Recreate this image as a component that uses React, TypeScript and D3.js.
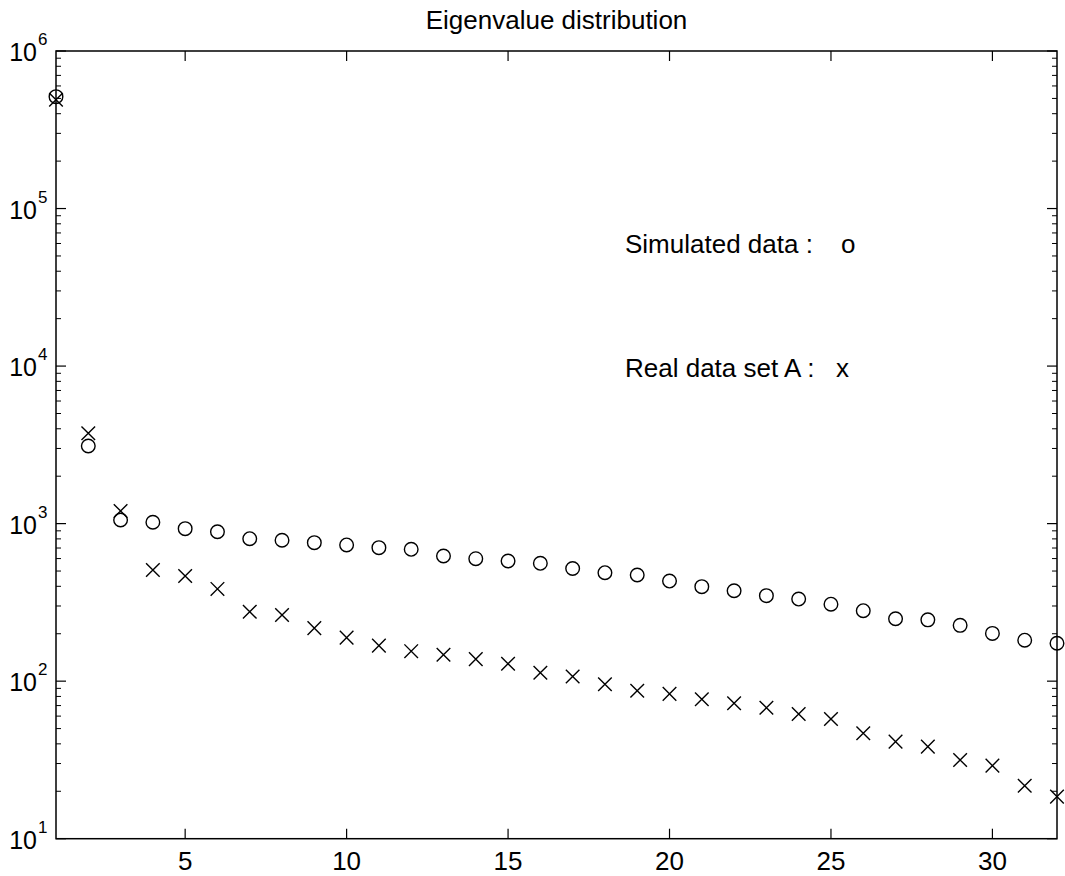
import React from "react";
import * as d3 from "d3";

const indices: number[] = Array.from({ length: 32 }, (_, i) => i + 1);
const simulated: number[] = [
  513000, 3109, 1054, 1020, 929, 888, 802, 784, 757, 732, 704, 687, 623, 599, 579, 560,
  519, 488, 472, 432, 398, 375, 349, 332, 308, 280, 249, 245, 226, 201, 182, 174,
];
const realA: number[] = [
  490000, 3745, 1203, 508, 465, 385, 276, 263, 217, 189, 168, 155, 147, 138, 129, 113,
  107, 95.5, 87, 83, 76.7, 72.4, 67.8, 61.9, 57.5, 46.7, 41.3, 38.4, 31.6, 29.1, 21.7, 18.5,
];
const xTicks: number[] = [5, 10, 15, 20, 25, 30];
const yTicks: number[] = [10, 100, 1000, 10000, 100000, 1000000];
const titleText = "Eigenvalue distribution";
const legendSim = "Simulated data :";
const legendReal = "Real data set A :";

const W = 1065;
const H = 876;
const left = 56;
const right = 1057;
const top = 51;
const bottom = 838.7;
const FONT = "'Liberation Sans', Arial, Helvetica, sans-serif";

export default function App() {
  const x = d3.scaleLinear().domain([1, 32]).range([left, right]);
  const y = d3.scaleLog().domain([10, 1e6]).range([bottom, top]);

  const minor: number[] = [];
  for (let e = 1; e < 6; e++) {
    for (let m = 2; m <= 9; m++) minor.push(m * Math.pow(10, e));
  }

  return (
    <svg
      width={W}
      height={H}
      style={{ position: "absolute", left: 0, top: 0, background: "#fff" }}
      fontFamily={FONT}
    >
      <rect x={0} y={0} width={W} height={H} fill="#fff" />
      {/* title */}
      <text x={(left + right) / 2} y={29} textAnchor="middle" fontSize={26} fill="#000">
        {titleText}
      </text>

      {/* axes box */}
      <rect x={left} y={top} width={right - left} height={bottom - top} fill="none" stroke="#000" strokeWidth={1.5} />

      {/* x ticks */}
      {xTicks.map((t) => (
        <g key={"xt" + t}>
          <line x1={x(t)} x2={x(t)} y1={bottom} y2={bottom - 10} stroke="#000" strokeWidth={1.2} />
          <line x1={x(t)} x2={x(t)} y1={top} y2={top + 10} stroke="#000" strokeWidth={1.2} />
          <text x={x(t)} y={870} textAnchor="middle" fontSize={26} fill="#000">
            {t}
          </text>
        </g>
      ))}

      {/* y major ticks */}
      {yTicks.map((t) => {
        const e = Math.round(Math.log10(t));
        return (
          <g key={"yt" + t}>
            <line x1={left} x2={left + 10} y1={y(t)} y2={y(t)} stroke="#000" strokeWidth={1.2} />
            <line x1={right} x2={right - 10} y1={y(t)} y2={y(t)} stroke="#000" strokeWidth={1.2} />
            <text x={37} y={y(t) + 10} textAnchor="end" fontSize={25} fill="#000">
              10
            </text>
            <text x={38} y={y(t) - 6} textAnchor="start" fontSize={17} fill="#000">
              {e}
            </text>
          </g>
        );
      })}
      {/* y minor ticks */}
      {minor.map((t) => (
        <g key={"ym" + t}>
          <line x1={left} x2={left + 5} y1={y(t)} y2={y(t)} stroke="#000" strokeWidth={1} />
          <line x1={right} x2={right - 5} y1={y(t)} y2={y(t)} stroke="#000" strokeWidth={1} />
        </g>
      ))}

      {/* simulated: circles */}
      {indices.map((i, k) => (
        <circle key={"c" + i} cx={x(i)} cy={y(simulated[k])} r={6.8} fill="none" stroke="#000" strokeWidth={1.4} />
      ))}
      {/* real: crosses */}
      {indices.map((i, k) => {
        const cx = x(i);
        const cy = y(realA[k]);
        const s = 6.8;
        return (
          <path
            key={"x" + i}
            d={`M${cx - s},${cy - s}L${cx + s},${cy + s}M${cx - s},${cy + s}L${cx + s},${cy - s}`}
            stroke="#000"
            strokeWidth={1.4}
            fill="none"
          />
        );
      })}

      {/* legend text */}
      <text x={625} y={253} fontSize={26} fill="#000">{legendSim}</text>
      <text x={841} y={253} fontSize={26} fill="#000">o</text>
      <text x={625} y={377} fontSize={26} fill="#000">{legendReal}</text>
      <text x={836} y={377} fontSize={26} fill="#000">x</text>
    </svg>
  );
}
